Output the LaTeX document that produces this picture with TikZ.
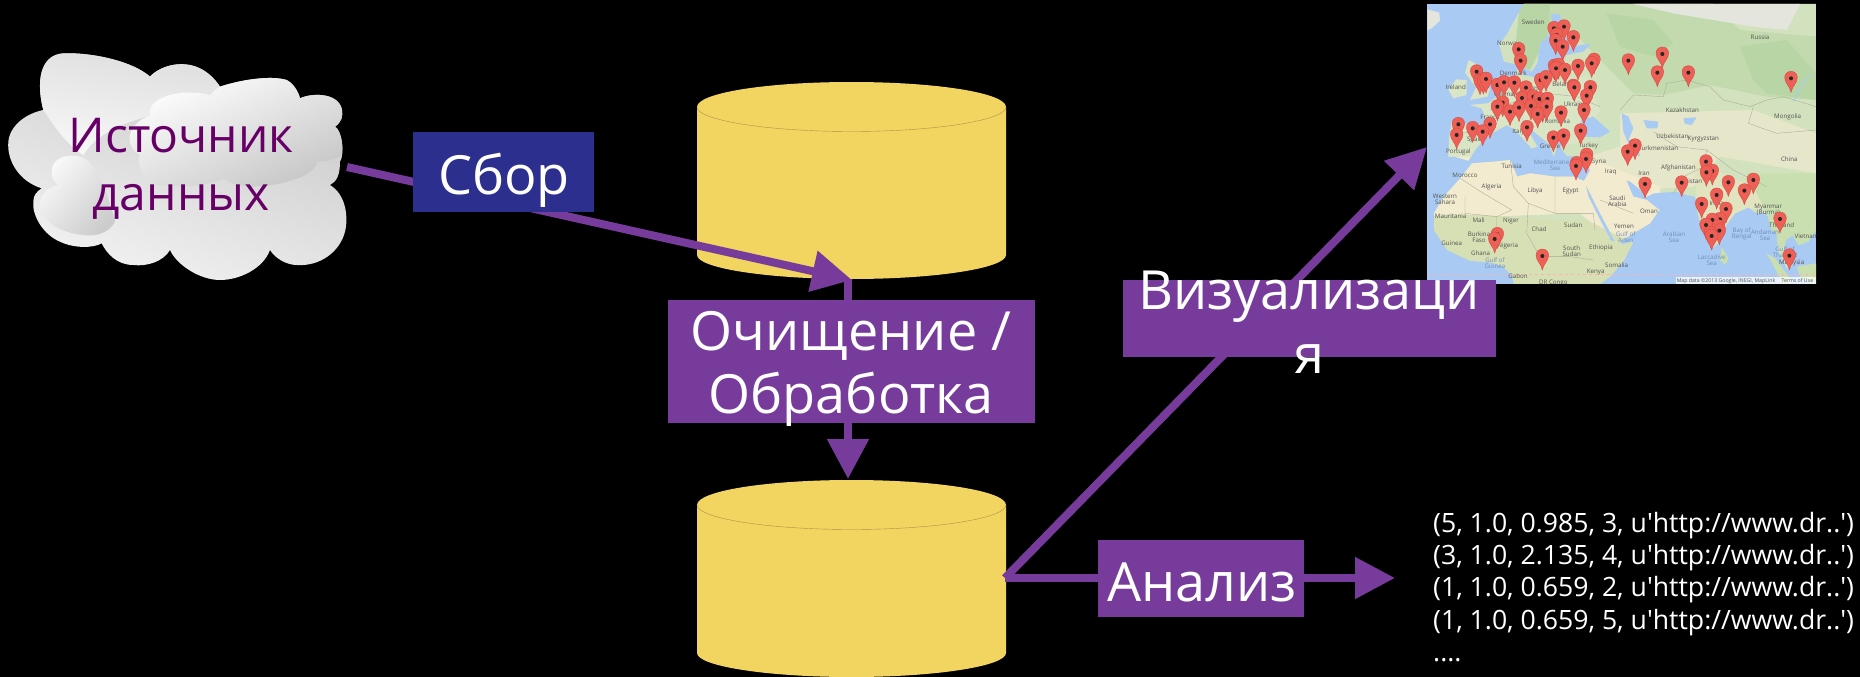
\documentclass[tikz,border=0pt]{standalone}
\usepackage{fontspec}
\usetikzlibrary{arrows.meta,calc}
\newfontfamily\osans{Open Sans}
\definecolor{flow}{HTML}{773C9B}
\definecolor{navybox}{HTML}{2C2F8D}
\definecolor{srcink}{HTML}{660066}
\definecolor{dbfill}{HTML}{F1D560}
\definecolor{dbline}{HTML}{A8924A}
\definecolor{sea}{HTML}{A9CBF3}
\definecolor{seatxt}{HTML}{6F8FB5}
\definecolor{pinred}{HTML}{EE5F56}
\definecolor{pinedge}{HTML}{D04A44}
\definecolor{landbase}{HTML}{D3E2BE}
\definecolor{landeu}{HTML}{D9E5C4}
\definecolor{forest}{HTML}{C2DAAD}
\definecolor{deepforest}{HTML}{B8D5A5}
\definecolor{tundra}{HTML}{E4E6DE}
\definecolor{steppe}{HTML}{E6E6CA}
\definecolor{indialand}{HTML}{E1E4BF}
\definecolor{seasia}{HTML}{CADFB0}
\definecolor{sahara}{HTML}{F2EBCF}
\definecolor{savanna}{HTML}{D7E0B4}
\definecolor{borderc}{HTML}{A9A998}
\newcommand{\fsz}[2]{\fontsize{#1}{#2}\selectfont}
\tikzset{
  flowline/.style={draw=flow,line width=8pt,-{Triangle[length=40pt,width=40pt]}},
  flowbox/.style={fill=flow,inner sep=0pt,outer sep=0pt},
  bigtext/.style={text=white,font=\osans\fsz{54}{64},align=center,inner sep=0pt},
  countrytxt/.style={text=black!68,font=\osans\fsz{6.2}{7},align=center,inner sep=0pt},
  border/.style={draw=borderc,line width=.35pt},
  mappin/.pic={
    \fill[pinred,draw=pinedge,line width=.35pt] (0,42) .. controls (-3,24) and (-19,14) .. (-19,-2)
      .. controls (-19,-13) and (-11,-21) .. (0,-21)
      .. controls (11,-21) and (19,-13) .. (19,-2)
      .. controls (19,14) and (3,24) .. (0,42) -- cycle;
    \fill[black!85] (-6,0) .. controls (-6,-8) and (6,-8) .. (6,0) .. controls (6,8) and (-6,8) .. (-6,0) -- cycle;
  }
}
\def\landpath{(311,12) -- (1188,12) -- (1188,690) -- (1165,725) -- (1135,735) -- (1118,705) -- (1098,720) -- (1092,745) -- (1115,800) -- (1100,805) -- (1075,755) -- (1070,700) -- (1055,690) -- (1040,640) -- (1010,640) -- (985,622) -- (945,640) -- (915,680) -- (895,730) -- (875,745) -- (852,700) -- (835,650) -- (825,590) -- (800,585) -- (770,575) -- (700,580) -- (680,590) -- (660,568) -- (632,545) -- (618,540) -- (640,590) -- (680,600) -- (718,630) -- (690,670) -- (640,700) -- (590,730) -- (575,705) -- (530,620) -- (497,553) -- (505,590) -- (540,660) -- (572,722) -- (610,732) -- (640,725) -- (612,782) -- (570,830) -- (540,852) -- (282,852) -- (275,825) -- (246,797) -- (210,787) -- (150,782) -- (82,750) -- (42,690) -- (42,640) -- (71,590) -- (121,535) -- (156,490) -- (221,485) -- (271,480) -- (291,530) -- (331,520) -- (406,530) -- (461,530) -- (492,543) -- (510,512) -- (500,472) -- (440,468) -- (420,440) -- (440,428) -- (415,425) -- (402,470) -- (385,430) -- (330,385) -- (300,345) -- (320,385) -- (352,440) -- (335,445) -- (285,390) -- (260,375) -- (215,400) -- (190,420) -- (165,450) -- (145,482) -- (105,470) -- (85,470) -- (88,410) -- (95,365) -- (185,382) -- (200,360) -- (185,325) -- (150,315) -- (205,310) -- (255,272) -- (285,240) -- (292,208) -- (310,225) -- (345,232) -- (410,232) -- (412,200) -- (440,165) -- (490,155) -- (515,130) -- (450,140) -- (430,90) -- (420,42) -- (392,42) -- (395,65) -- (385,105) -- (360,130) -- (352,190) -- (335,215) -- (305,200) -- (275,190) -- (252,185) -- (238,135) -- (262,100) -- cycle}
\begin{document}
\begin{tikzpicture}[x=1pt,y=-1pt]
\useasboundingbox (0,0) rectangle (1860,677);
\fill[black] (0,0) rectangle (1860,677);

% ---- cloud
\begin{scope}[x=.33333pt,y=-.33333pt,shift={(0pt,-45pt)}]
\path[left color=black!22,right color=black!5,shading angle=-20]
 (130,195) .. controls (110,120) and (115,30) .. (190,25) .. controls (280,22) and (400,50) .. (450,95)
 .. controls (480,60) and (590,20) .. (660,125) .. controls (720,105) and (810,90) .. (860,105)
 .. controls (880,115) and (895,140) .. (900,160) .. controls (930,145) and (1010,140) .. (1025,190)
 .. controls (1030,215) and (1025,230) .. (1005,245) .. controls (1025,255) and (1035,330) .. (1020,350)
 .. controls (1020,390) and (1010,410) .. (990,420) .. controls (1040,450) and (1045,520) .. (1035,560)
 .. controls (1020,620) and (960,665) .. (890,660) .. controls (860,660) and (825,640) .. (810,615)
 .. controls (790,670) and (720,705) .. (660,705) .. controls (600,705) and (530,660) .. (510,615)
 .. controls (490,650) and (440,665) .. (400,660) .. controls (350,660) and (320,625) .. (305,595)
 .. controls (280,610) and (220,610) .. (180,590) .. controls (130,570) and (95,510) .. (100,470)
 .. controls (100,450) and (110,440) .. (125,430) .. controls (60,410) and (20,350) .. (25,290)
 .. controls (30,240) and (80,205) .. (130,195) -- cycle;
\path[left color=black!13,right color=black!3,shading angle=-10]
 (130,195) .. controls (110,120) and (115,30) .. (190,25) .. controls (280,22) and (400,50) .. (450,95)
 .. controls (480,60) and (590,20) .. (660,125) -- (630,150) .. controls (560,130) and (460,150) .. (450,210)
 .. controls (400,230) and (300,250) .. (250,330) .. controls (200,300) and (160,240) .. (130,195) -- cycle;
\path[left color=white,right color=black!22,shading angle=25]
 (450,195) .. controls (460,150) and (560,130) .. (630,150) .. controls (645,135) and (650,130) .. (660,125)
 .. controls (720,105) and (810,90) .. (860,105) .. controls (880,115) and (895,140) .. (900,160)
 .. controls (930,145) and (1010,140) .. (1025,190) .. controls (1030,215) and (1025,230) .. (1005,245)
 .. controls (1025,255) and (1035,320) .. (1020,335) .. controls (1000,345) and (970,350) .. (950,350)
 .. controls (950,385) and (870,420) .. (760,425) .. controls (720,425) and (690,415) .. (670,400)
 .. controls (640,420) and (540,430) .. (470,420) .. controls (420,395) and (410,350) .. (420,330)
 .. controls (370,300) and (380,240) .. (450,210) -- cycle;
\path[left color=black!2,right color=black!20,shading angle=50]
 (155,380) .. controls (155,340) and (200,325) .. (240,335) .. controls (280,340) and (320,430) .. (345,530)
 .. controls (320,575) and (270,580) .. (200,560) .. controls (140,540) and (115,500) .. (120,470)
 .. controls (125,445) and (150,425) .. (175,420) .. controls (160,410) and (155,395) .. (155,380) -- cycle;
\end{scope}
\coordinate (srcout) at (347,167);

% ---- databases
\fill[dbfill]
  (697,107) .. controls (697,93) and (766,82) .. (851.5,82) .. controls (937,82) and (1006,93) .. (1006,107)
  -- (1006,255) .. controls (1006,268) and (937,279) .. (851.5,279) .. controls (766,279) and (697,268) .. (697,255) -- cycle;
\draw[dbline,line width=.4pt] (697,107) .. controls (697,120) and (766,131.5) .. (851.5,131.5) .. controls (937,131.5) and (1006,120) .. (1006,107);
\fill[dbfill]
  (697,505) .. controls (697,491) and (766,480) .. (851.5,480) .. controls (937,480) and (1006,491) .. (1006,505)
  -- (1006,653) .. controls (1006,666) and (937,677) .. (851.5,677) .. controls (766,677) and (697,666) .. (697,653) -- cycle;
\draw[dbline,line width=.4pt] (697,505) .. controls (697,518) and (766,529.5) .. (851.5,529.5) .. controls (937,529.5) and (1006,518) .. (1006,505);
\coordinate (dbinA) at (852,280);
\coordinate (dbA) at (848,279);
\coordinate (dbB) at (848,479);
\coordinate (dbBout) at (1005,578);

% ---- map
\begin{scope}[x=.33333pt,y=-.33333pt,shift={(1420pt,0pt)}]
\fill[sea] (22,12) rectangle (1188,852);
\begin{scope}
\clip (22,12) rectangle (1188,852);
% islands
\fill[tundra] (22,28) -- (58,38) -- (60,62) -- (35,85) -- (22,92) -- cycle;
\fill[landeu] (146,180) -- (168,192) -- (170,240) -- (210,268) -- (202,290) -- (150,300) -- (168,262) -- (135,218) -- cycle;
\fill[landeu] (108,238) -- (140,240) -- (140,285) -- (100,295) -- (85,270) -- cycle;
\fill[seasia] (1040,760) -- (1065,775) -- (1110,835) -- (1110,852) -- (1090,852) -- cycle;
\fill[seasia] (905,742) -- (925,775) -- (915,795) -- (900,780) -- cycle;
\fill[seasia] (1130,800) -- (1188,790) -- (1188,852) -- (1140,830) -- cycle;
\begin{scope}
\clip \landpath;
\fill[landbase] (0,0) rectangle (1200,860);
% Russia, forests
\fill[forest] (300,12) -- (880,12) -- (960,90) -- (1188,110) -- (1188,300) -- (1040,290) -- (870,255) -- (730,285) -- (640,280) -- (520,160) -- (430,60) -- (300,130) -- cycle;
\fill[deepforest] (960,140) -- (1100,120) -- (1188,220) -- (1188,300) -- (1040,280) -- (1000,240) -- cycle;
\fill[deepforest] (300,12) -- (390,12) -- (385,100) -- (330,210) -- (280,190) -- cycle;
\fill[deepforest] (560,40) -- (700,60) -- (760,130) -- (700,170) -- (600,140) -- cycle;
\fill[tundra] (640,12) -- (1140,12) -- (1100,90) -- (1000,80) -- (880,60) -- (760,40) -- cycle;
% Europe
\fill[landeu] (85,280) -- (500,230) -- (540,330) -- (480,430) -- (85,480) -- cycle;
% Central Asia
\fill[steppe] (600,340) -- (1000,330) -- (1188,400) -- (1188,520) -- (900,470) -- (820,560) -- (640,570) -- (560,500) -- (500,470) -- (600,440) -- cycle;
\fill[indialand] (820,480) -- (1000,560) -- (1060,620) -- (980,630) -- (880,740) -- (830,590) -- cycle;
\fill[seasia] (980,520) -- (1188,520) -- (1188,740) -- (1070,740) -- (1040,640) -- cycle;
% Africa + Arabia
\fill[sahara] (22,470) -- (500,470) -- (720,560) -- (720,680) -- (590,735) -- (480,640) -- (200,650) -- (22,670) -- cycle;
\fill[savanna] (22,650) .. controls (180,630) and (400,670) .. (500,660) -- (640,730) -- (560,860) -- (22,860) -- cycle;
\end{scope}
% water
\fill[sea] (605,340) -- (625,350) -- (640,385) -- (625,420) -- (650,425) -- (660,470) -- (640,455) -- (625,430) -- (610,395) -- cycle;
\fill[sea] (485,360) -- (520,350) -- (570,395) -- (540,412) -- (495,410) -- (470,400) -- cycle;
\fill[sea] (670,360) -- (715,365) -- (712,385) -- (680,385) -- cycle;
\fill[sea] (790,355) -- (830,352) -- (815,375) -- (795,372) -- cycle;
\draw[sea,line width=1pt] (1120,305) -- (1150,250) -- (1170,225);
% borders
\draw[border] (600,330) -- (640,285) -- (730,290) -- (740,250) -- (800,240) -- (870,260) -- (910,300) -- (990,320) -- (1040,300) -- (1090,290) -- (1188,320);
\draw[border] (1000,320) -- (985,370) -- (1070,400) -- (1188,390);
\draw[border] (700,395) -- (770,440) -- (860,450) -- (850,500) -- (790,530) -- (760,580);
\draw[border] (860,450) -- (940,510) -- (1040,560);
\draw[border] (121,535) -- (190,580) -- (275,630) -- (230,650) -- (230,700);
\draw[border] (271,480) -- (280,560) -- (325,610) -- (405,640) -- (405,530);
\draw[border] (405,640) -- (520,640) -- (525,690);
\draw[border] (135,590) -- (135,640) -- (230,650);
\draw[border] (325,610) -- (320,700) -- (360,770) -- (450,770) -- (520,780);
\draw[border] (100,400) -- (200,395);
\draw[border] (210,330) -- (300,300) -- (380,280) -- (470,290) -- (540,320);
\draw[border] (540,600) -- (640,640);
\draw[red!30!white,dashed,line width=.4pt] (22,822) -- (1188,822);
% labels
\foreach \px/\py/\pt in {340/68/Sweden,265/132/Norway,280/220/Denmark,107/263/Ireland,262/284/Germany,335/265/Poland,210/353/France,165/420/Spain,115/456/Portugal,430/252/Belarus,465/312/Ukraine,412/365/Romania,295/395/Italy,390/440/Greece,505/438/Turkey,1020/112/Russia,787/332/Kazakhstan,1103/351/Mongolia,757/410/Uzbekistan,850/417/Kyrgyzstan,715/446/Turkmenistan,775/503/Afghanistan,672/521/Iran,572/516/Iraq,537/487/Syria,687/635/Oman,612/680/Yemen,810/543/Pakistan,1108/479/China,890/610/India,1085/675/Thailand,1160/710/Vietnam,1115/788/Malaysia,275/498/Tunisia,135/525/Morocco,215/562/Algeria,345/573/Libya,452/573/Egypt,92/650/Mauritania,176/661/Mali,273/664/Niger,357/688/Chad,460/676/Sudan,95/729/Guinea,182/760/Ghana,263/737/Nigeria,543/745/Ethiopia,590/797/Somalia,527/817/Kenya,294/829/Gabon,400/848/DR Congo}
  \node[countrytxt] (lab\px) at (\px,\py) {\pt};
\node[countrytxt] (labsa) at (592,603) {Saudi\\[-1pt]Arabia};
\node[countrytxt] (labws) at (75,598) {Western\\[-1pt]Sahara};
\node[countrytxt] (labbf) at (177,712) {Burkina\\[-1pt]Faso};
\node[countrytxt] (labss) at (455,755) {South\\[-1pt]Sudan};
\node[countrytxt] (labmm) at (1045,628) {Myanmar\\[-1pt](Burma)};
\node[countrytxt,text=seatxt] (labbb) at (965,703) {Bay of\\[-1pt]Bengal};
\node[countrytxt,text=seatxt] (labas) at (1035,705) {Andaman\\[-1pt]Sea};
\node[countrytxt,text=seatxt] (labar) at (762,712) {Arabian\\[-1pt]Sea};
\node[countrytxt,text=seatxt] (lablc) at (875,782) {Laccadive\\[-1pt]Sea};
\node[countrytxt,text=seatxt] (labgt) at (1095,755) {Gulf of\\[-1pt]Thailand};
\node[countrytxt,text=seatxt] (labme) at (405,495) {Mediterranean\\[-1pt]Sea};
\node[countrytxt,text=seatxt] (labgg) at (225,790) {Gulf of\\[-1pt]Guinea};
\node[countrytxt,text=seatxt] (labga) at (617,712) {Gulf of\\[-1pt]Aden};
\foreach \a/\b in {402/85,432/80,410/105,460/112,407/122,428/140,296/148,302/182,403/198,415/195,408/205,435/210,474/198,522/180,515/190,625/182,727/162,712/218,805/218,1113/235,170/215,180/242,190/240,198/237,232/255,252/247,283/248,318/263,362/240,378/232,460/258,463/262,511/262,500/287,492/330,423/338,482/392,306/294,340/290,358/297,382/297,248/308,232/320,270/335,297/323,333/318,368/325,380/320,353/342,115/373,158/385,210/373,188/395,110/405,321/382,400/413,431/407,500/465,498/477,470/490,468/498,645/437,623/455,675/552,785/548,858/485,877/513,859/517,925/547,1000/540,973/572,890/585,845/612,918/627,900/658,877/660,858/675,895/680,898/692,872/700,875/708,1080/657,1108/767,232/703,224/717,367/768}
  \pic at (\a,\b) {mappin};
\fill[white,opacity=.75] (768,832) rectangle (1188,852);
\node[countrytxt,font=\osans\fsz{5.2}{6}] (attr) at (918,842) {Map data ©2013 Google, INEGI, MapLink};
\node[countrytxt,font=\osans\fsz{5.2}{6}] (terms) at (1132,842) {Terms of Use};
\end{scope}
\end{scope}
\coordinate (mapin) at (1427,147);
\coordinate (resin) at (1395,578);

% ---- connectors
\draw[flowline] (srcout) -- (dbinA);
\draw[flowline] (dbA) -- (dbB);
\draw[flowline] (dbBout) -- (mapin);
\draw[flowline] (dbBout) -- (resin);

% ---- boxes
\node[flowbox,fill=navybox,minimum width=181pt,minimum height=80pt] (collect) at (503.5,172) {};
\node[flowbox,minimum width=367pt,minimum height=123pt] (clean) at (851.5,361.5) {};
\node[flowbox,minimum width=373pt,minimum height=77pt] (viz) at (1309.5,318.5) {};
\node[flowbox,minimum width=206pt,minimum height=77pt] (ana) at (1201,578.5) {};

% ---- texts
\node[bigtext,anchor=base] (collectT) at (504,194) {Сбор};
\node[bigtext,anchor=center] (cleanT) at (851,369) {Очищение /\\[-1pt]Обработка};
\node[bigtext,anchor=center] (vizT) at (1309,322) {Визуализаци\\я};
\node[bigtext,anchor=base] (anaT) at (1202,601) {Анализ};
\node[text=srcink,font=\osans\fsz{48}{58},align=center,inner sep=0pt] (srcT) at (181,169) {Источник\\данных};
\node[text=white,font=\osans\fsz{26.6}{32.2},align=left,inner sep=0pt,anchor=north west] (resT) at (1433,512) {(5, 1.0, 0.985, 3, u'http://www.dr..')\\(3, 1.0, 2.135, 4, u'http://www.dr..')\\(1, 1.0, 0.659, 2, u'http://www.dr..')\\(1, 1.0, 0.659, 5, u'http://www.dr..')\\....};
\end{tikzpicture}
\end{document}
